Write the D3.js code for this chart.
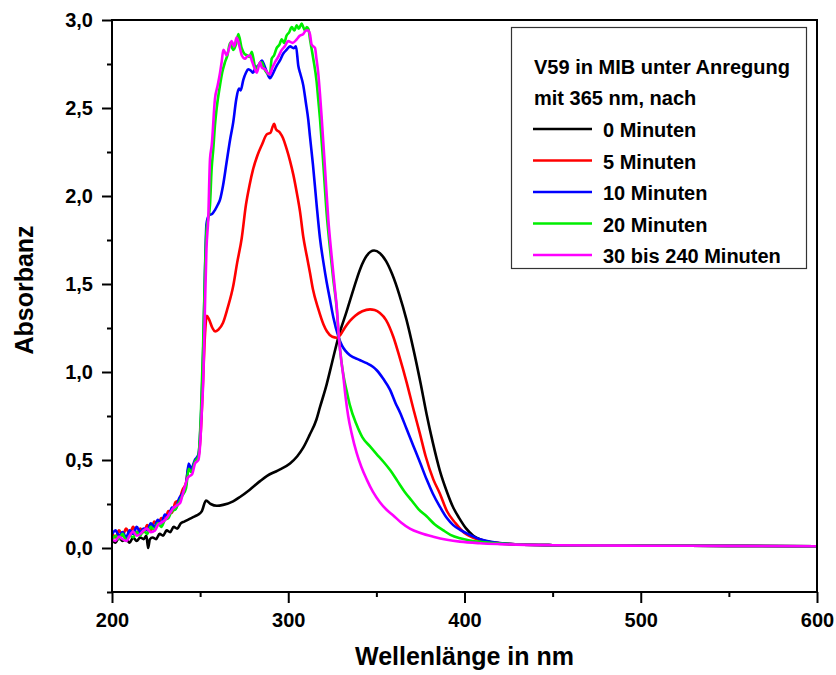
<!DOCTYPE html>
<html>
<head>
<meta charset="utf-8">
<script src="https://cdn.jsdelivr.net/npm/d3@7"></script>
<style>
  body { margin: 0; background: #fff; }
  text { font-family: "Liberation Sans", Arial, sans-serif; font-weight: bold; }
</style>
</head>
<body>
<script>
// Spectra: [wavelength nm, absorbance]
var series0 = [
  [200,0.05],[202,0.03],[204,0.06],[206,0.04],[208,0.05],[210,0.03],[212,0.06],[214,0.04],
  [216,0.06],[218,0.05],[219.5,0.07],[220.5,0.0],[221.5,0.05],[223,0.06],[225,0.05],[227,0.08],
  [229,0.07],[231,0.10],[233,0.09],[235,0.12],[237,0.11],[239,0.14],[241,0.15],[243,0.16],
  [245,0.17],[247,0.18],[249,0.19],[251,0.21],[253.3,0.27],[256,0.25],[259.5,0.24],[263,0.245],
  [268.7,0.265],[272.6,0.29],[278,0.33],[284,0.38],[288,0.41],[294,0.44],[301,0.48],[305,0.52],
  [308.5,0.57],[312,0.64],[316,0.73],[318,0.80],[321.8,0.93],[325,1.06],[328.5,1.20],[333,1.34],
  [337,1.47],[341,1.59],[344.5,1.66],[348.7,1.69],[352,1.675],[355.5,1.63],[359,1.555],[363,1.44],
  [367,1.30],[371,1.13],[375,0.94],[378.5,0.76],[382,0.60],[386,0.44],[390,0.32],[393.6,0.23],
  [397,0.17],[401,0.11],[405,0.07],[409,0.048],[415,0.033],[420,0.027],[430,0.02],[450,0.016],
  [500,0.013],[550,0.012],[600,0.01]
];
var series5 = [
  [200,0.09],[202,0.06],[204,0.10],[206,0.07],[208,0.11],[210,0.08],[212,0.12],[214,0.08],
  [216,0.11],[218,0.09],[220,0.13],[222,0.10],[224,0.15],[226,0.13],[228,0.17],[230,0.16],
  [232,0.21],[234,0.20],[236,0.26],[238,0.27],[240,0.33],[242,0.37],[243.5,0.46],[245,0.44],
  [247,0.49],[249,0.52],[250.5,0.68],[251.7,0.96],[252.8,1.22],[253.8,1.32],[255,1.30],[257,1.25],
  [258.5,1.23],[260.3,1.24],[263,1.28],[265.5,1.36],[268.8,1.49],[271,1.62],[273.6,1.76],[276,1.95],
  [278,2.06],[280,2.15],[282.5,2.23],[285,2.29],[287.8,2.35],[290,2.36],[291,2.39],[292,2.41],
  [293,2.38],[295.3,2.36],[297,2.33],[299,2.27],[301,2.20],[302.9,2.12],[305,2.01],[306.7,1.91],
  [308.5,1.77],[310.5,1.66],[312.3,1.565],[314,1.47],[317,1.36],[320,1.27],[322,1.23],[325,1.20],
  [327.5,1.195],[329.5,1.21],[332,1.25],[335,1.29],[338,1.32],[342,1.345],[346.4,1.356],[349,1.352],
  [352,1.335],[355.5,1.295],[359.6,1.20],[363,1.09],[367.2,0.94],[371,0.79],[374.7,0.65],[378,0.52],
  [382.3,0.39],[386,0.31],[390,0.21],[395,0.14],[400,0.085],[405,0.058],[412,0.038],[418,0.03],
  [430,0.02],[450,0.016],[500,0.013],[550,0.012],[600,0.01]
];
var series10 = [
  [200,0.08],[202,0.10],[204,0.07],[206,0.09],[208,0.06],[210,0.10],[212,0.08],[214,0.12],
  [216,0.09],[218,0.11],[220,0.10],[222,0.14],[224,0.12],[226,0.16],[228,0.14],[230,0.19],
  [232,0.18],[234,0.23],[236,0.22],[238,0.28],[240,0.31],[242,0.36],[243.5,0.48],[245,0.45],
  [247,0.50],[249,0.53],[250.5,0.75],[251.7,1.1],[252.7,1.55],[253.6,1.84],[255,1.89],[257,1.90],
  [258.4,1.92],[260,1.95],[261.3,1.98],[263,2.06],[265,2.19],[267,2.32],[268.8,2.42],[270.5,2.55],
  [272,2.61],[273,2.60],[274.5,2.66],[276,2.70],[277.3,2.72],[279,2.71],[280,2.70],[281.5,2.73],
  [283,2.74],[285,2.77],[286.5,2.74],[288,2.70],[289.6,2.67],[291.5,2.70],[293.4,2.74],[295.3,2.77],
  [297.2,2.81],[299,2.83],[301,2.85],[303,2.84],[304.4,2.85],[305.7,2.74],[306.7,2.70],[308.5,2.63],
  [310,2.53],[311.4,2.43],[312.3,2.34],[314,2.18],[316.1,1.95],[318,1.76],[320,1.62],[321.8,1.51],
  [323.5,1.42],[325.6,1.31],[328.5,1.20],[330.5,1.15],[332.5,1.12],[335,1.095],[340,1.07],[344.5,1.05],
  [348,1.03],[350.2,1.01],[354,0.96],[357.7,0.90],[361,0.82],[363.4,0.77],[367,0.68],[371,0.58],
  [375,0.48],[378.5,0.39],[382,0.31],[386,0.235],[390,0.17],[393.6,0.13],[398,0.10],[403,0.075],
  [408.8,0.05],[415,0.035],[420,0.028],[430,0.02],[450,0.016],[500,0.013],[550,0.012],[600,0.01]
];
var series20 = [
  [200,0.04],[202,0.07],[204,0.05],[206,0.08],[208,0.04],[210,0.07],[212,0.06],[214,0.09],
  [216,0.07],[218,0.10],[220,0.08],[222,0.12],[224,0.10],[226,0.14],[228,0.12],[230,0.16],
  [232,0.17],[234,0.21],[236,0.22],[238,0.26],[240,0.30],[242,0.34],[243.5,0.45],[245,0.43],
  [247,0.49],[249,0.52],[250.5,0.78],[251.7,1.15],[252.7,1.55],[253.6,1.80],[254.6,1.87],[255.6,1.95],
  [256.5,2.15],[257.5,2.27],[258.4,2.40],[259.4,2.50],[261.3,2.63],[262.5,2.70],[264.1,2.76],[265.5,2.80],
  [267,2.87],[268.8,2.83],[270.3,2.86],[271.7,2.92],[273.6,2.84],[275,2.81],[276.4,2.80],[278,2.79],
  [279.3,2.82],[281,2.74],[282.1,2.72],[283.5,2.75],[285,2.76],[286.5,2.72],[287.8,2.70],[289.6,2.69],
  [290.6,2.78],[292,2.80],[293.4,2.84],[295,2.86],[296.3,2.89],[297.7,2.87],[299,2.91],[300.5,2.93],
  [302,2.96],[303.5,2.94],[304.8,2.97],[306,2.95],[307.6,2.98],[308.5,2.96],[309.5,2.94],[310.5,2.96],
  [311.4,2.95],[312.5,2.88],[314.2,2.78],[316.1,2.65],[317,2.55],[318,2.44],[319.9,2.18],[321.8,1.90],
  [323.7,1.70],[325.5,1.53],[327.5,1.36],[328.7,1.20],[330.3,1.05],[331.5,0.97],[333.2,0.89],[335,0.81],
  [338.8,0.70],[342,0.63],[346.4,0.577],[350,0.535],[354,0.49],[358,0.44],[362,0.38],[366,0.32],
  [370,0.27],[374,0.22],[378.5,0.18],[383,0.135],[388,0.10],[392,0.075],[397.5,0.055],[403,0.043],
  [410,0.034],[420,0.026],[430,0.02],[450,0.016],[500,0.013],[550,0.012],[600,0.01]
];
var series30 = [
  [200,0.05],[202,0.04],[204,0.065],[206,0.05],[208.3,0.04],[210,0.07],[212,0.093],[214,0.07],
  [216,0.08],[218,0.10],[219.7,0.11],[222,0.09],[224.4,0.10],[226,0.13],[227.2,0.14],[229,0.15],
  [231,0.17],[233,0.20],[234.8,0.226],[236.5,0.24],[238.6,0.255],[240,0.30],[241.4,0.35],[243,0.40],
  [244.3,0.41],[245.5,0.42],[247.1,0.48],[249,0.50],[250.2,0.62],[250.9,0.77],[251.8,0.96],[252.7,1.35],
  [253.6,1.70],[254.6,1.87],[255.6,2.21],[256.6,2.29],[258.4,2.55],[260,2.63],[261.3,2.70],[262.2,2.76],
  [263.2,2.83],[265,2.80],[266.5,2.84],[267.9,2.88],[269.3,2.85],[270.7,2.90],[272.6,2.84],[273.6,2.80],
  [275.5,2.78],[276.4,2.79],[278.3,2.80],[279.3,2.77],[281.1,2.72],[282.1,2.70],[284,2.76],[285,2.73],
  [286.8,2.72],[288.7,2.695],[289.6,2.69],[291,2.73],[292.5,2.76],[294.3,2.79],[296.3,2.83],[298,2.85],
  [300,2.88],[302.5,2.87],[304.8,2.89],[306.5,2.91],[308.5,2.92],[310,2.94],[311.4,2.94],[312.3,2.92],
  [313.3,2.86],[315.2,2.84],[316,2.78],[317,2.70],[318,2.58],[319,2.44],[320.9,2.15],[322.7,1.87],
  [324.6,1.66],[326.5,1.47],[327.6,1.36],[328.7,1.20],[330,1.07],[331.2,0.98],[332.5,0.86],[334,0.75],
  [336,0.65],[338.8,0.54],[341.5,0.46],[344.5,0.39],[348,0.32],[352,0.26],[355.5,0.22],[359.6,0.185],
  [364,0.145],[369,0.11],[375,0.085],[382.3,0.064],[390,0.047],[397.4,0.036],[408.8,0.027],[420,0.022],
  [450,0.016],[500,0.013],[550,0.012],[600,0.01]
];

var seriesList = [series0, series5, series10, series20, series30];
var seriesNames = ['0 Minuten', '5 Minuten', '10 Minuten', '20 Minuten', '30 bis 240 Minuten'];
var seriesColors = ['#000000', '#ff0000', '#0000ff', '#00ee00', '#ff00ff'];
var legendTitle = ['V59 in MIB unter Anregung', 'mit 365 nm, nach'];

var xMajor = [200, 300, 400, 500, 600],
    xMinor = [250, 350, 450, 550],
    yMajor = [0, 0.5, 1.0, 1.5, 2.0, 2.5, 3.0],
    yMinor = [-0.25, 0.25, 0.75, 1.25, 1.75, 2.25, 2.75];

// Plot frame
var plotLeft = 112, plotRight = 817, plotTop = 20, plotBottom = 592;

var xScale = d3.scaleLinear().domain([200, 600]).range([plotLeft, plotRight]),
    yScale = d3.scaleLinear().domain([-0.25, 3.0]).range([plotBottom, plotTop]);

var svg = d3.select('body').append('svg')
    .attr('width', 836)
    .attr('height', 675);

svg.append('rect').attr('width', 836).attr('height', 675).attr('fill', '#fff');

svg.append('clipPath').attr('id', 'plot')
  .append('rect')
    .attr('x', plotLeft).attr('y', plotTop)
    .attr('width', plotRight - plotLeft).attr('height', plotBottom - plotTop);

var drawLine = d3.line()
    .curve(d3.curveMonotoneX)
    .x(function(d) { return xScale(d[0]); })
    .y(function(d) { return yScale(d[1]); });

seriesList.forEach(function(data, i) {
    svg.append('path')
        .attr('clip-path', 'url(#plot)')
        .attr('d', drawLine(data))
        .attr('fill', 'none')
        .attr('stroke', seriesColors[i])
        .attr('stroke-width', 2.6)
        .attr('stroke-linejoin', 'round');
});

var comma = function(d) { return d3.format('.1f')(d).replace('.', ','); };

// Y-axis
svg.append('g')
    .attr('transform', 'translate(' + plotLeft + ',0)')
    .call(d3.axisLeft(yScale).tickValues(yMajor).tickSize(10).tickPadding(9).tickFormat(comma));
svg.append('g')
    .attr('transform', 'translate(' + plotLeft + ',0)')
    .call(d3.axisLeft(yScale).tickValues(yMinor).tickSize(5).tickFormat(''));

// X-axis
svg.append('g')
    .attr('transform', 'translate(0,' + plotBottom + ')')
    .call(d3.axisBottom(xScale).tickValues(xMajor).tickSize(11).tickPadding(10).tickFormat(d3.format('d')));
svg.append('g')
    .attr('transform', 'translate(0,' + plotBottom + ')')
    .call(d3.axisBottom(xScale).tickValues(xMinor).tickSize(5).tickFormat(''));

svg.selectAll('.domain').remove();
svg.selectAll('.tick line').attr('stroke', '#000').attr('stroke-width', 2);
svg.selectAll('.tick text')
    .attr('fill', '#000')
    .style('font-size', '20px')
    .style('font-family', '"Liberation Sans", Arial, sans-serif')
    .style('font-weight', 'bold');

svg.append('rect')
    .attr('x', plotLeft).attr('y', plotTop)
    .attr('width', plotRight - plotLeft).attr('height', plotBottom - plotTop)
    .attr('fill', 'none')
    .attr('stroke', '#000')
    .attr('stroke-width', 2);

// Axis titles
svg.append('text')
    .text('Wellenlänge in nm')
    .attr('x', (plotLeft + plotRight) / 2)
    .attr('y', 665)
    .attr('text-anchor', 'middle')
    .style('font-size', '25px');

svg.append('text')
    .text('Absorbanz')
    .attr('transform', 'translate(33,290) rotate(-90)')
    .attr('text-anchor', 'middle')
    .style('font-size', '25px');

// Legend
var legend = svg.append('g');
legend.append('rect')
    .attr('x', 511.5).attr('y', 27.5)
    .attr('width', 295).attr('height', 241)
    .attr('fill', '#fff')
    .attr('stroke', '#333')
    .attr('stroke-width', 1.2);

legendTitle.forEach(function(t, i) {
    legend.append('text')
        .text(t)
        .attr('x', 534)
        .attr('y', 74 + i * 31)
        .style('font-size', '20px');
});

seriesNames.forEach(function(name, i) {
    var yb = 137 + i * 31.5;
    legend.append('line')
        .attr('x1', 533).attr('x2', 592)
        .attr('y1', yb - 8).attr('y2', yb - 8)
        .attr('stroke', seriesColors[i])
        .attr('stroke-width', 2.6);
    legend.append('text')
        .text(name)
        .attr('x', 603)
        .attr('y', yb)
        .style('font-size', '20px');
});
</script>
</body>
</html>
